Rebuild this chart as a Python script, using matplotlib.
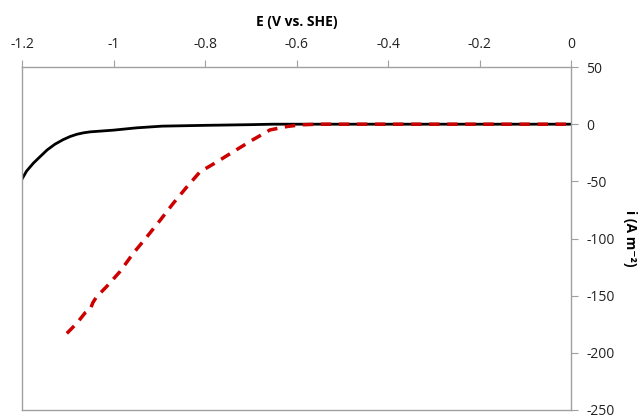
import matplotlib.pyplot as plt

plt.rcParams['font.family'] = ['Open Sans', 'DejaVu Sans']

# black curve (solid)
E_black = [-1.2, -1.19, -1.175, -1.161, -1.145, -1.128, -1.11, -1.095, -1.08, -1.065, -1.051, -1.0, -0.95, -0.894,
           -0.8, -0.7, -0.652, -0.5, -0.3, -0.1, 0.0]
i_black = [-48, -41, -34, -28.6, -22.5, -17.5, -13.5, -10.8, -8.8, -7.5, -6.7, -5.2, -3.2, -1.7,
           -1.0, -0.4, 0.0, 0.0, 0.0, 0.0, 0.0]

# red curve (dashed)
E_red = [-1.102, -1.080, -1.062, -1.051, -1.045, -1.037, -1.015, -0.986, -0.957, -0.927, -0.898, -0.869,
         -0.840, -0.811, -0.774, -0.738, -0.697, -0.658, -0.62, -0.59, -0.55, -0.4, -0.2, 0.0]
i_red = [-183, -174, -165, -162, -156, -151, -142, -129, -113, -98.5, -84, -69,
         -55, -41.7, -33, -24, -14, -5, -2, -0.5, 0.0, 0.0, 0.0, 0.0]

x_ticks = [-1.2, -1, -0.8, -0.6, -0.4, -0.2, 0]
y_ticks = [50, 0, -50, -100, -150, -200, -250]

fig = plt.figure(figsize=(6.38, 4.19), dpi=100)
ax = fig.add_axes([0.0345, 0.0215, 0.8605, 0.8185])

ax.plot(E_black, i_black, color='black', linewidth=2)
ax.plot(E_red, i_red, color='#cc0000', linewidth=2.5, linestyle=(0, (3, 2.2)))

ax.set_xlim(-1.2, 0)
ax.set_ylim(-250, 50)
ax.set_xticks(x_ticks)
ax.set_xticklabels(['-1.2', '-1', '-0.8', '-0.6', '-0.4', '-0.2', '0'])
ax.set_yticks(y_ticks)
ax.set_yticklabels([str(v) for v in y_ticks])

ax.xaxis.tick_top()
ax.xaxis.set_label_position('top')
ax.yaxis.tick_right()
ax.yaxis.set_label_position('right')
ax.tick_params(axis='both', direction='out', length=5, color='#a0a0a0', labelsize=10, labelcolor='#222222')
ax.tick_params(axis='x', pad=6)
ax.tick_params(axis='y', pad=6)

for s in ax.spines.values():
    s.set_color('#a0a0a0')
    s.set_linewidth(1)

ax.set_xlabel('E (V vs. SHE)', fontsize=10, fontweight='bold', labelpad=8)
ax.set_ylabel('i (A m\u207b\u00b2)', fontsize=10, fontweight='bold', rotation=-90, labelpad=16)

fig.savefig('out.png', dpi=100)
